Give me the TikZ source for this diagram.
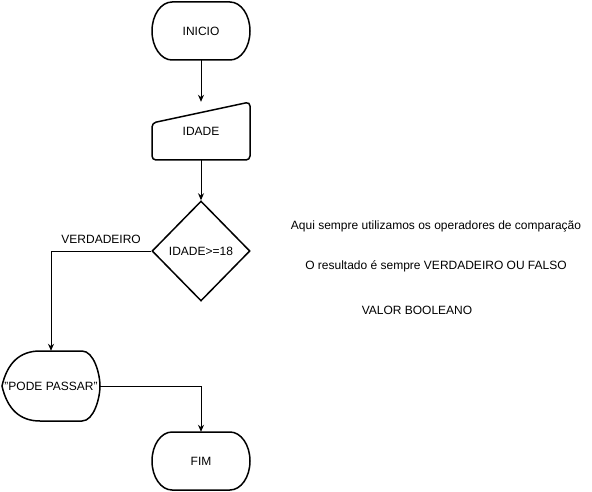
\documentclass[tikz,border=0pt]{standalone}
\usepackage{fontspec}
\setmainfont{Liberation Sans}
\usetikzlibrary{positioning,calc,arrows.meta,shapes.geometric}

\begin{document}
\begin{tikzpicture}[x=1pt,y=-1pt,
    every node/.style={font=\fontsize{12}{14}\selectfont},
    outline/.style={line width=1.5pt,rounded corners=4pt},
    slot/.style={inner sep=0pt,minimum width=98pt},
    decision/.style={draw,diamond,line width=1.5pt,inner sep=0pt,minimum width=98pt,minimum height=100pt},
    flow/.style={line width=1pt,-{Stealth[length=7pt,width=6pt]}}]
  \useasboundingbox (0,0) rectangle (592,492);
  % start and input
  \node[slot,minimum height=58pt] (inicio) at (201,31) {INICIO};
  \draw[line width=1.5pt,shift={(inicio.center)}] (-29,-29) -- (29,-29)
    arc[start angle=90,end angle=-90,x radius=20pt,y radius=29pt] -- (-29,29)
    arc[start angle=270,end angle=90,x radius=20pt,y radius=29pt] -- cycle;
  \node[slot,minimum height=58pt] (idade) at (201,131) {IDADE};
  \draw[outline,shift={(idade.center)}] (-49,29) -- (-49,-8) -- (49,-29) -- (49,29) -- cycle;
  % decision
  \node[decision] (teste) at (201,251) {IDADE>=18};
  % display + end
  \node[slot,minimum height=70pt] (passar) at (51,386) {"PODE PASSAR"};
  \draw[line width=1.5pt,shift={(passar.center)}] (-49,0) .. controls (-43.7,-23.3) and (-31,-35) .. (-11,-35)
    -- (31,-35) .. controls (43,-35) and (49,-11.7) .. (49,0)
    .. controls (49,11.7) and (43,35) .. (31,35) -- (-11,35)
    .. controls (-31,35) and (-43.7,23.3) .. cycle;
  \node[slot,minimum height=58pt] (fim) at (201,461) {FIM};
  \draw[line width=1.5pt,shift={(fim.center)}] (-29,-29) -- (29,-29)
    arc[start angle=90,end angle=-90,x radius=20pt,y radius=29pt] -- (-29,29)
    arc[start angle=270,end angle=90,x radius=20pt,y radius=29pt] -- cycle;
  % connectors
  \draw[flow] (inicio) -- (idade);
  \draw[flow] (idade) -- (teste);
  \draw[flow] (teste.west) -| node[pos=0.25,above=4pt] (verdadeiro) {VERDADEIRO} (passar.north);
  \draw[flow] (passar.east) -| (fim.north);
  % notes
  \node (nota1) at (436,226) {Aqui sempre utilizamos os operadores de comparação};
  \node (nota2) at (436,266) {O resultado é sempre VERDADEIRO OU FALSO};
  \node (nota3) at (417,310) {VALOR BOOLEANO};
\end{tikzpicture}
\end{document}
